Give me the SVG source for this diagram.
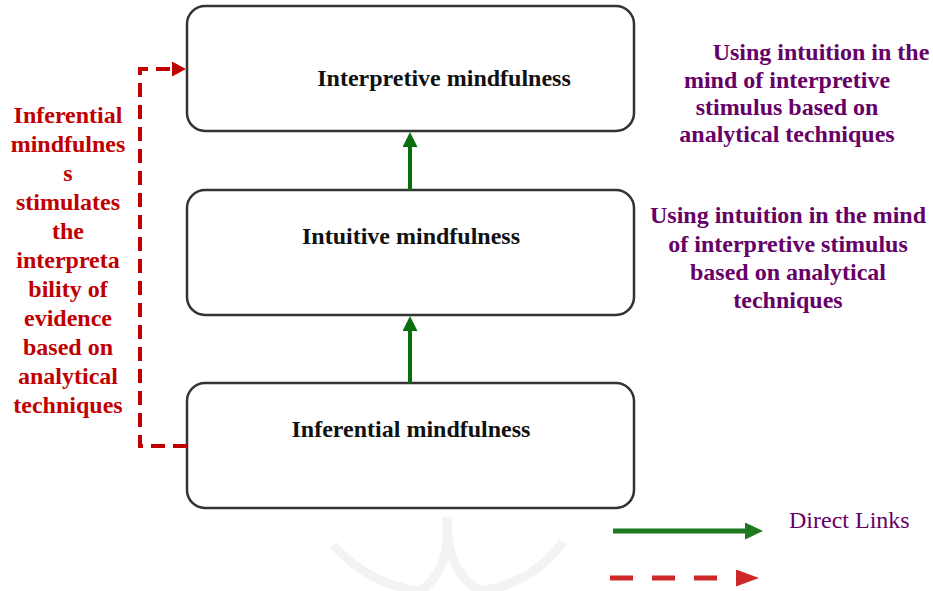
<svg xmlns="http://www.w3.org/2000/svg" width="933" height="591" viewBox="0 0 933 591">
<style>
  .box { fill: #ffffff; stroke: #333333; stroke-width: 2.5; }
  .lbl { font-family: "Liberation Serif", "Times New Roman", serif; font-size: 24px; font-weight: bold; fill: #111111; text-anchor: middle; }
  .red { font-family: "Liberation Serif", "Times New Roman", serif; font-size: 24px; font-weight: bold; fill: #c00000; text-anchor: middle; }
  .pur { font-family: "Liberation Serif", "Times New Roman", serif; font-size: 24px; font-weight: bold; fill: #660066; text-anchor: middle; }
  .leg { font-family: "Liberation Serif", "Times New Roman", serif; font-size: 24px; fill: #660066; }
  .green { fill: none; stroke: #0a6e0a; stroke-width: 4; }
  .dash { fill: none; stroke: #c00000; stroke-width: 4; stroke-dasharray: 14 8; }
  .wm { fill: none; stroke: #f3f3f3; stroke-width: 9; }
</style>
<defs>
  <marker id="gh" markerUnits="userSpaceOnUse" markerWidth="16" markerHeight="16" refX="0" refY="7.5" orient="auto">
    <path d="M0,0 L15,7.5 L0,15 z" fill="#0a6e0a"/>
  </marker>
  <marker id="gh2" markerUnits="userSpaceOnUse" markerWidth="19" markerHeight="18" refX="0" refY="8.5" orient="auto">
    <path d="M0,0 L18,8.5 L0,17 z" fill="#1f7a1f"/>
  </marker>
  <marker id="rh" markerUnits="userSpaceOnUse" markerWidth="16" markerHeight="16" refX="0" refY="7.5" orient="auto">
    <path d="M0,0 L14,7.5 L0,15 z" fill="#c00000"/>
  </marker>
  <marker id="rh2" markerUnits="userSpaceOnUse" markerWidth="24" markerHeight="18" refX="0" refY="8.5" orient="auto">
    <path d="M0,0 L23,8.5 L0,17 z" fill="#d02828"/>
  </marker>
</defs>

<g id="watermark">
  <path class="wm" d="M333,545 Q370,585 420,591"/>
  <path class="wm" d="M447,517 Q452,570 420,591"/>
  <path class="wm" d="M447,517 Q445,570 480,591"/>
  <path class="wm" d="M563,542 Q530,585 480,591"/>
</g>

<g id="node-interpretive">
  <rect class="box" x="187" y="6" width="447" height="125" rx="18"/>
  <text class="lbl" x="444" y="86">Interpretive mindfulness</text>
</g>
<g id="node-intuitive">
  <rect class="box" x="187" y="190" width="447" height="125" rx="18"/>
  <text class="lbl" x="411" y="244">Intuitive mindfulness</text>
</g>
<g id="node-inferential">
  <rect class="box" x="187" y="383" width="447" height="125" rx="18"/>
  <text class="lbl" x="411" y="437">Inferential mindfulness</text>
</g>

<g id="connectors">
  <path class="green" d="M410,190 V147" marker-end="url(#gh)"/>
  <path class="green" d="M410,383 V331" marker-end="url(#gh)"/>
  <path class="dash" d="M187,446 H140 V69 H172" marker-end="url(#rh)"/>
</g>

<g id="left-note">
  <text class="red" x="68" y="123">Inferential</text>
  <text class="red" x="68" y="152">mindfulnes</text>
  <text class="red" x="68" y="181">s</text>
  <text class="red" x="68" y="210">stimulates</text>
  <text class="red" x="68" y="239">the</text>
  <text class="red" x="68" y="268">interpreta</text>
  <text class="red" x="68" y="297">bility of</text>
  <text class="red" x="68" y="326">evidence</text>
  <text class="red" x="68" y="355">based on</text>
  <text class="red" x="68" y="384">analytical</text>
  <text class="red" x="68" y="413">techniques</text>
</g>

<g id="right-note-1">
  <text class="pur" x="821" y="60">Using intuition in the</text>
  <text class="pur" x="787" y="88">mind of interpretive</text>
  <text class="pur" x="787" y="115">stimulus based on</text>
  <text class="pur" x="787" y="142">analytical techniques</text>
</g>
<g id="right-note-2">
  <text class="pur" x="788" y="223">Using intuition in the mind</text>
  <text class="pur" x="788" y="252">of interpretive stimulus</text>
  <text class="pur" x="788" y="280">based on analytical</text>
  <text class="pur" x="788" y="308">techniques</text>
</g>

<g id="legend">
  <path d="M613,531 H745" fill="none" stroke="#1f7a1f" stroke-width="5" marker-end="url(#gh2)"/>
  <text class="leg" x="789" y="528">Direct Links</text>
  <path d="M610,578 H736" fill="none" stroke="#d02828" stroke-width="5" stroke-dasharray="23 19" marker-end="url(#rh2)"/>
</g>
</svg>
